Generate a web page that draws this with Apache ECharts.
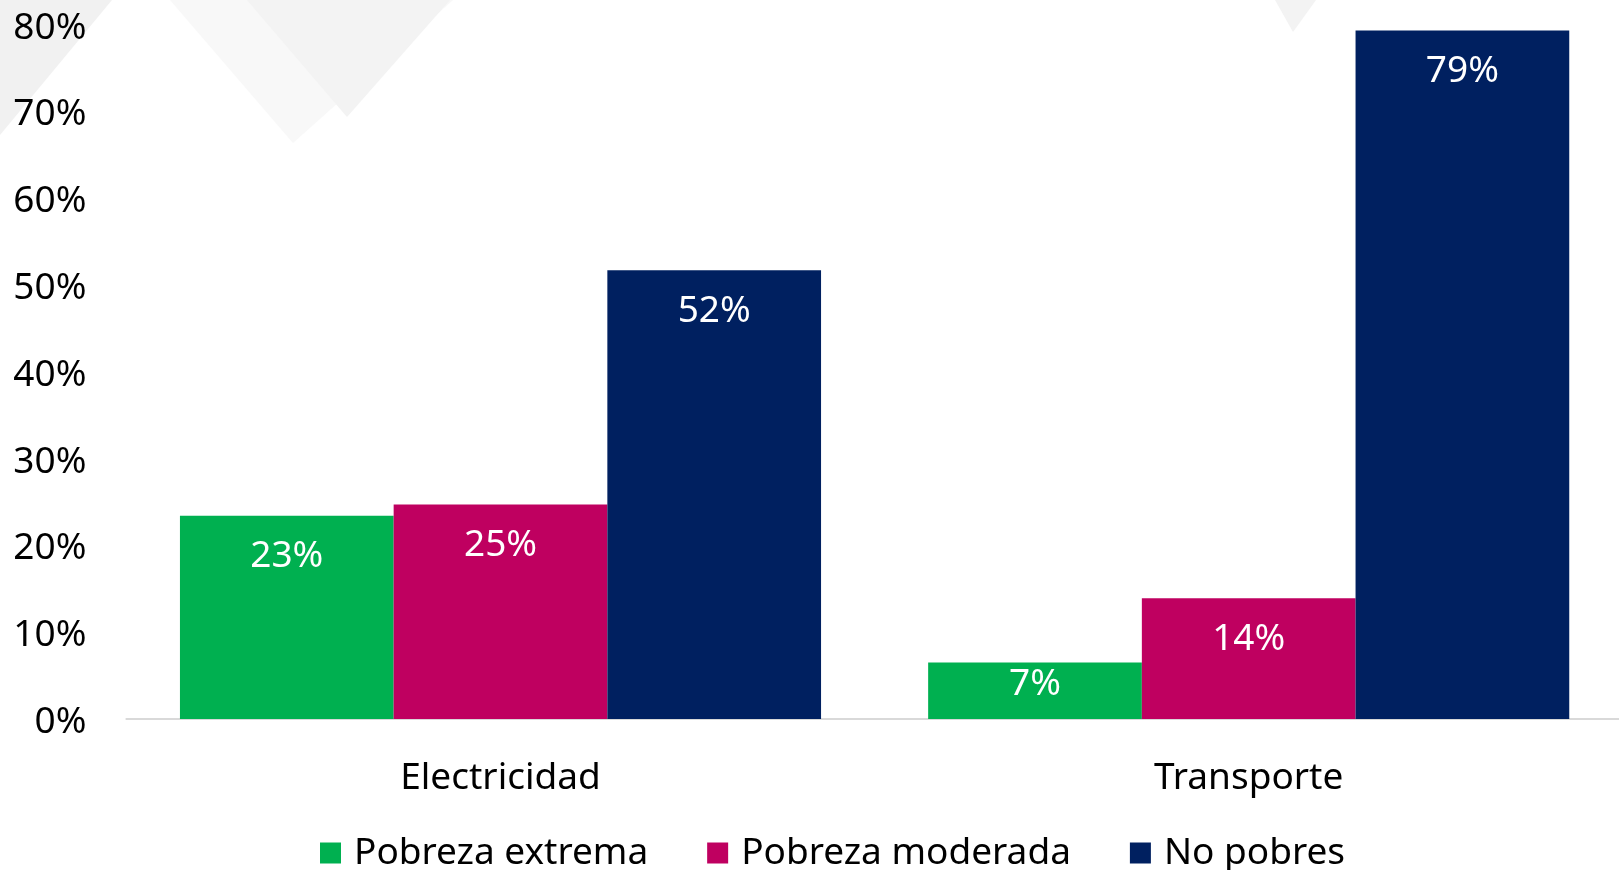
<!DOCTYPE html>
<html>
<head>
<meta charset="utf-8">
<script src="https://cdn.jsdelivr.net/npm/echarts@6/dist/echarts.min.js"></script>
<style>
html,body{margin:0;padding:0;background:#fff;}
#chart{width:1619px;height:870px;}
</style>
</head>
<body>
<div id="chart"></div>
<script>
const categories = ['Electricidad', 'Transporte'];
const seriesNames = ['Pobreza extrema', 'Pobreza moderada', 'No pobres'];
const pobrezaExtrema = [0.234, 0.065];
const pobrezaModerada = [0.247, 0.139];
const noPobres = [0.517, 0.793];
const yTicks = [0, 0.1, 0.2, 0.3, 0.4, 0.5, 0.6, 0.7, 0.8];

const colors = ['#00B050', '#BF0060', '#002060'];
const FONT = 'Noto Sans';
const chart = echarts.init(document.getElementById('chart'));

function makeSeries(name, values, color) {
  return {
    name: name,
    type: 'bar',
    barWidth: 213.7,
    barGap: '0%',
    itemStyle: { color: color },
    data: values.map(v => ({
      value: v,
      label: {
        show: true,
        position: v < 0.1 ? ['50%', 22] : ['50%', 41],
        align: 'center',
        verticalAlign: 'middle',
        color: '#ffffff',
        fontFamily: FONT,
        fontSize: 37,
        formatter: p => Math.round(p.value * 100) + '%'
      }
    })),
    emphasis: { disabled: true }
  };
}

chart.setOption({
  animation: false,
  backgroundColor: '#ffffff',
  graphic: [
    { type: 'polygon', z: -10, shape: { points: [[0,0],[112,0],[0,135]] }, style: { fill: '#f1f1f1' } },
    { type: 'polygon', z: -10, shape: { points: [[170,0],[293,143],[453,0]] }, style: { fill: '#f8f8f8' } },
    { type: 'polygon', z: -10, shape: { points: [[247,0],[347,117],[450,0]] }, style: { fill: '#f3f3f3' } },
    { type: 'polygon', z: -10, shape: { points: [[1275,0],[1293,32],[1316,0]] }, style: { fill: '#f3f3f3' } }
  ],
  grid: { left: 126.4, top: 24.5, width: 1496.4, bottom: 151, containLabel: false, outerBoundsMode: 'none' },
  legend: {
    data: seriesNames,
    left: 320,
    top: 833,
    padding: 0,
    itemWidth: 21,
    itemHeight: 21,
    itemGap: 59,
    icon: 'rect',
    textStyle: { fontFamily: FONT, fontSize: 37, color: '#000', lineHeight: 40, padding: [0, 0, 0, 8] }
  },
  xAxis: {
    type: 'category',
    data: categories,
    axisLine: { show: true, lineStyle: { color: '#D9D9D9', width: 2 } },
    axisTick: { show: false },
    axisLabel: { fontFamily: FONT, fontSize: 37, color: '#000', margin: 39, lineHeight: 40 }
  },
  yAxis: {
    type: 'value',
    min: yTicks[0],
    max: yTicks[yTicks.length - 1],
    interval: yTicks[1] - yTicks[0],
    splitLine: { show: false },
    axisLine: { show: false },
    axisTick: { show: false },
    axisLabel: {
      fontFamily: FONT, fontSize: 37, color: '#000', margin: 40,
      formatter: v => '{a|' + Math.round(v * 100) + '%}',
      rich: { a: { fontFamily: FONT, fontSize: 37, color: '#000', padding: [7, 0, 0, 0] } }
    }
  },
  series: [
    makeSeries(seriesNames[0], pobrezaExtrema, colors[0]),
    makeSeries(seriesNames[1], pobrezaModerada, colors[1]),
    makeSeries(seriesNames[2], noPobres, colors[2])
  ]
});
</script>
</body>
</html>
